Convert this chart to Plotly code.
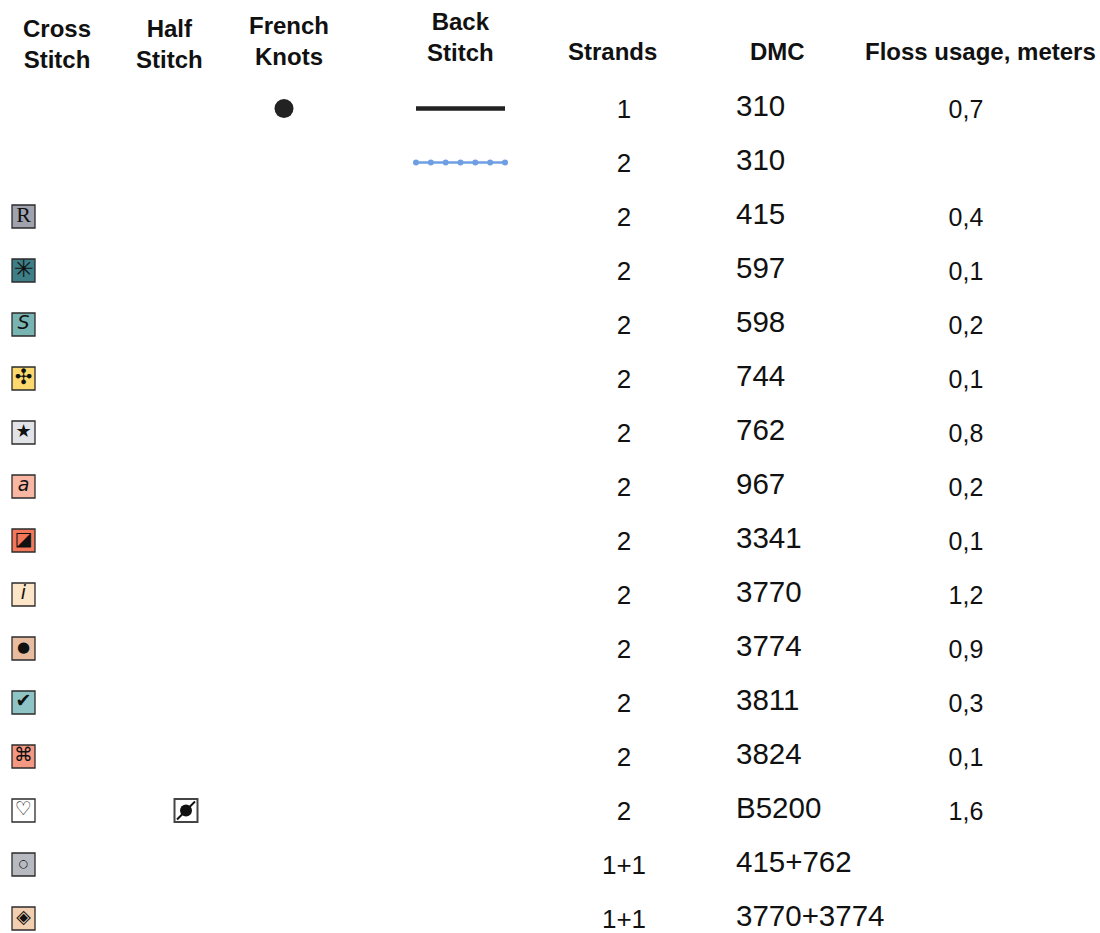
import plotly.graph_objects as go

# ---------------- data ----------------
headers = ["Cross<br>Stitch", "Half<br>Stitch", "French<br>Knots", "Back<br>Stitch",
           "Strands", "DMC", "Floss usage, meters"]
dmc = ["310", "310", "415", "597", "598", "744", "762", "967", "3341", "3770",
       "3774", "3811", "3824", "B5200", "415+762", "3770+3774"]
strands = ["1", "2", "2", "2", "2", "2", "2", "2", "2", "2", "2", "2", "2", "2", "1+1", "1+1"]
floss = ["0,7", "", "0,4", "0,1", "0,2", "0,1", "0,8", "0,2", "0,1", "1,2",
         "0,9", "0,3", "0,1", "1,6", "", ""]
cross_symbol = ["", "", "R", "✳", "<i>S</i>", "✣", "★", "<i>a</i>", "◪", "<i>i</i>",
                "●", "✔", "⌘", "♡", "○", "◈"]
cross_color = [None, None, "#a0a3ad", "#3e7e86", "#78b4b2", "#fbd96e", "#e2e3e7",
               "#f8b6a3", "#f4775a", "#fde5c8", "#e8bc9f", "#8fc4c6", "#f59883",
               "#ffffff", "#b7bbc1", "#f3cfb1"]
half_rows = [13]
french_rows = [0]
back_solid_rows = [0]
back_dotted_rows = [1]

# ---------------- layout / style constants ----------------
W, H = 1100, 933
ROW0, ROWH = 108.5, 54.0
col_cross, col_half, col_french, col_back = 23.5, 186, 284, 460.5
col_strands, col_dmc, col_floss = 624, 736, 966
back_half = 44.5
header_x = [57, 169, 289, 460, 612, 777, 980]
header_y = [44, 43.5, 41, 37, 51, 51, 51]
glyph_size = {"R": 22, "✳": 24, "●": 15, "○": 11, "✔": 19, "★": 18, "✣": 21}

rows = list(range(len(dmc)))
fig = go.Figure()

# cross-stitch swatches
cr = [r for r in rows if cross_color[r]]
fig.add_trace(go.Scatter(
    x=[col_cross] * len(cr), y=cr, mode="markers",
    marker=dict(symbol="square", size=23, color=[cross_color[r] for r in cr],
                line=dict(color="#2b2b2b", width=1.3)),
    hoverinfo="skip"))
sym_fonts = ["Liberation Serif" if cross_symbol[r] == "R" else "DejaVu Sans" for r in cr]
sym_sizes = [glyph_size.get(cross_symbol[r], 19) for r in cr]
fig.add_trace(go.Scatter(
    x=[col_cross] * len(cr), y=cr, mode="text",
    text=[cross_symbol[r] for r in cr],
    textfont=dict(family=sym_fonts, size=sym_sizes, color="#111"),
    textposition="middle center", hoverinfo="skip"))

# half stitch
fig.add_trace(go.Scatter(
    x=[col_half] * len(half_rows), y=half_rows, mode="markers",
    marker=dict(symbol="square", size=23, color="#ffffff",
                line=dict(color="#444", width=2)),
    hoverinfo="skip"))
fig.add_trace(go.Scatter(
    x=[col_half] * len(half_rows), y=half_rows, mode="markers",
    marker=dict(symbol="circle", size=12, color="#111"), hoverinfo="skip"))
fig.add_trace(go.Scatter(
    x=[col_half] * len(half_rows), y=half_rows, mode="markers",
    marker=dict(symbol="line-ne", size=18, line=dict(color="#111", width=2)),
    hoverinfo="skip"))

# french knots
fig.add_trace(go.Scatter(
    x=[col_french] * len(french_rows), y=french_rows, mode="markers",
    marker=dict(symbol="circle", size=19, color="#222"), hoverinfo="skip"))

# back stitch
for r in back_solid_rows:
    fig.add_trace(go.Scatter(
        x=[col_back - back_half, col_back + back_half], y=[r, r], mode="lines",
        line=dict(color="#222", width=4.5), hoverinfo="skip"))
for r in back_dotted_rows:
    n = 7
    xs = [col_back - back_half + 2 * back_half * k / (n - 1) for k in range(n)]
    fig.add_trace(go.Scatter(
        x=xs, y=[r] * n, mode="lines+markers",
        line=dict(color="#6f9fe3", width=2.5),
        marker=dict(size=6, color="#6f9fe3"), hoverinfo="skip"))

# text columns
fig.add_trace(go.Scatter(
    x=[col_strands] * len(rows), y=[r + 0.06 for r in rows], mode="text", text=strands,
    textposition="middle center",
    textfont=dict(family="Liberation Sans", size=26, color="#111"), hoverinfo="skip"))
fig.add_trace(go.Scatter(
    x=[col_dmc] * len(rows), y=rows, mode="text", text=dmc,
    textposition="middle right",
    textfont=dict(family="Liberation Sans", size=29.5, color="#111"), hoverinfo="skip"))
fig.add_trace(go.Scatter(
    x=[col_floss] * len(rows), y=[r + 0.06 for r in rows], mode="text", text=floss,
    textposition="middle center",
    textfont=dict(family="Liberation Sans", size=25, color="#111"), hoverinfo="skip"))

# headers
for t, hx, hy in zip(headers, header_x, header_y):
    fig.add_annotation(x=hx, y=(hy - ROW0) / ROWH, xref="x", yref="y", text="<b>" + t + "</b>",
                       showarrow=False, xanchor="center", yanchor="middle",
                       font=dict(family="Liberation Sans", size=24, color="#111"))

fig.update_layout(
    width=W, height=H, margin=dict(l=0, r=0, t=0, b=0),
    paper_bgcolor="white", plot_bgcolor="white", showlegend=False,
    xaxis=dict(range=[0, W], visible=False, fixedrange=True),
    yaxis=dict(range=[(H - ROW0) / ROWH, -ROW0 / ROWH], visible=False, fixedrange=True),
)
fig.write_html("out.html", config={"displayModeBar": False},
               post_script="document.body.style.margin='0';document.body.style.overflow='hidden';")
